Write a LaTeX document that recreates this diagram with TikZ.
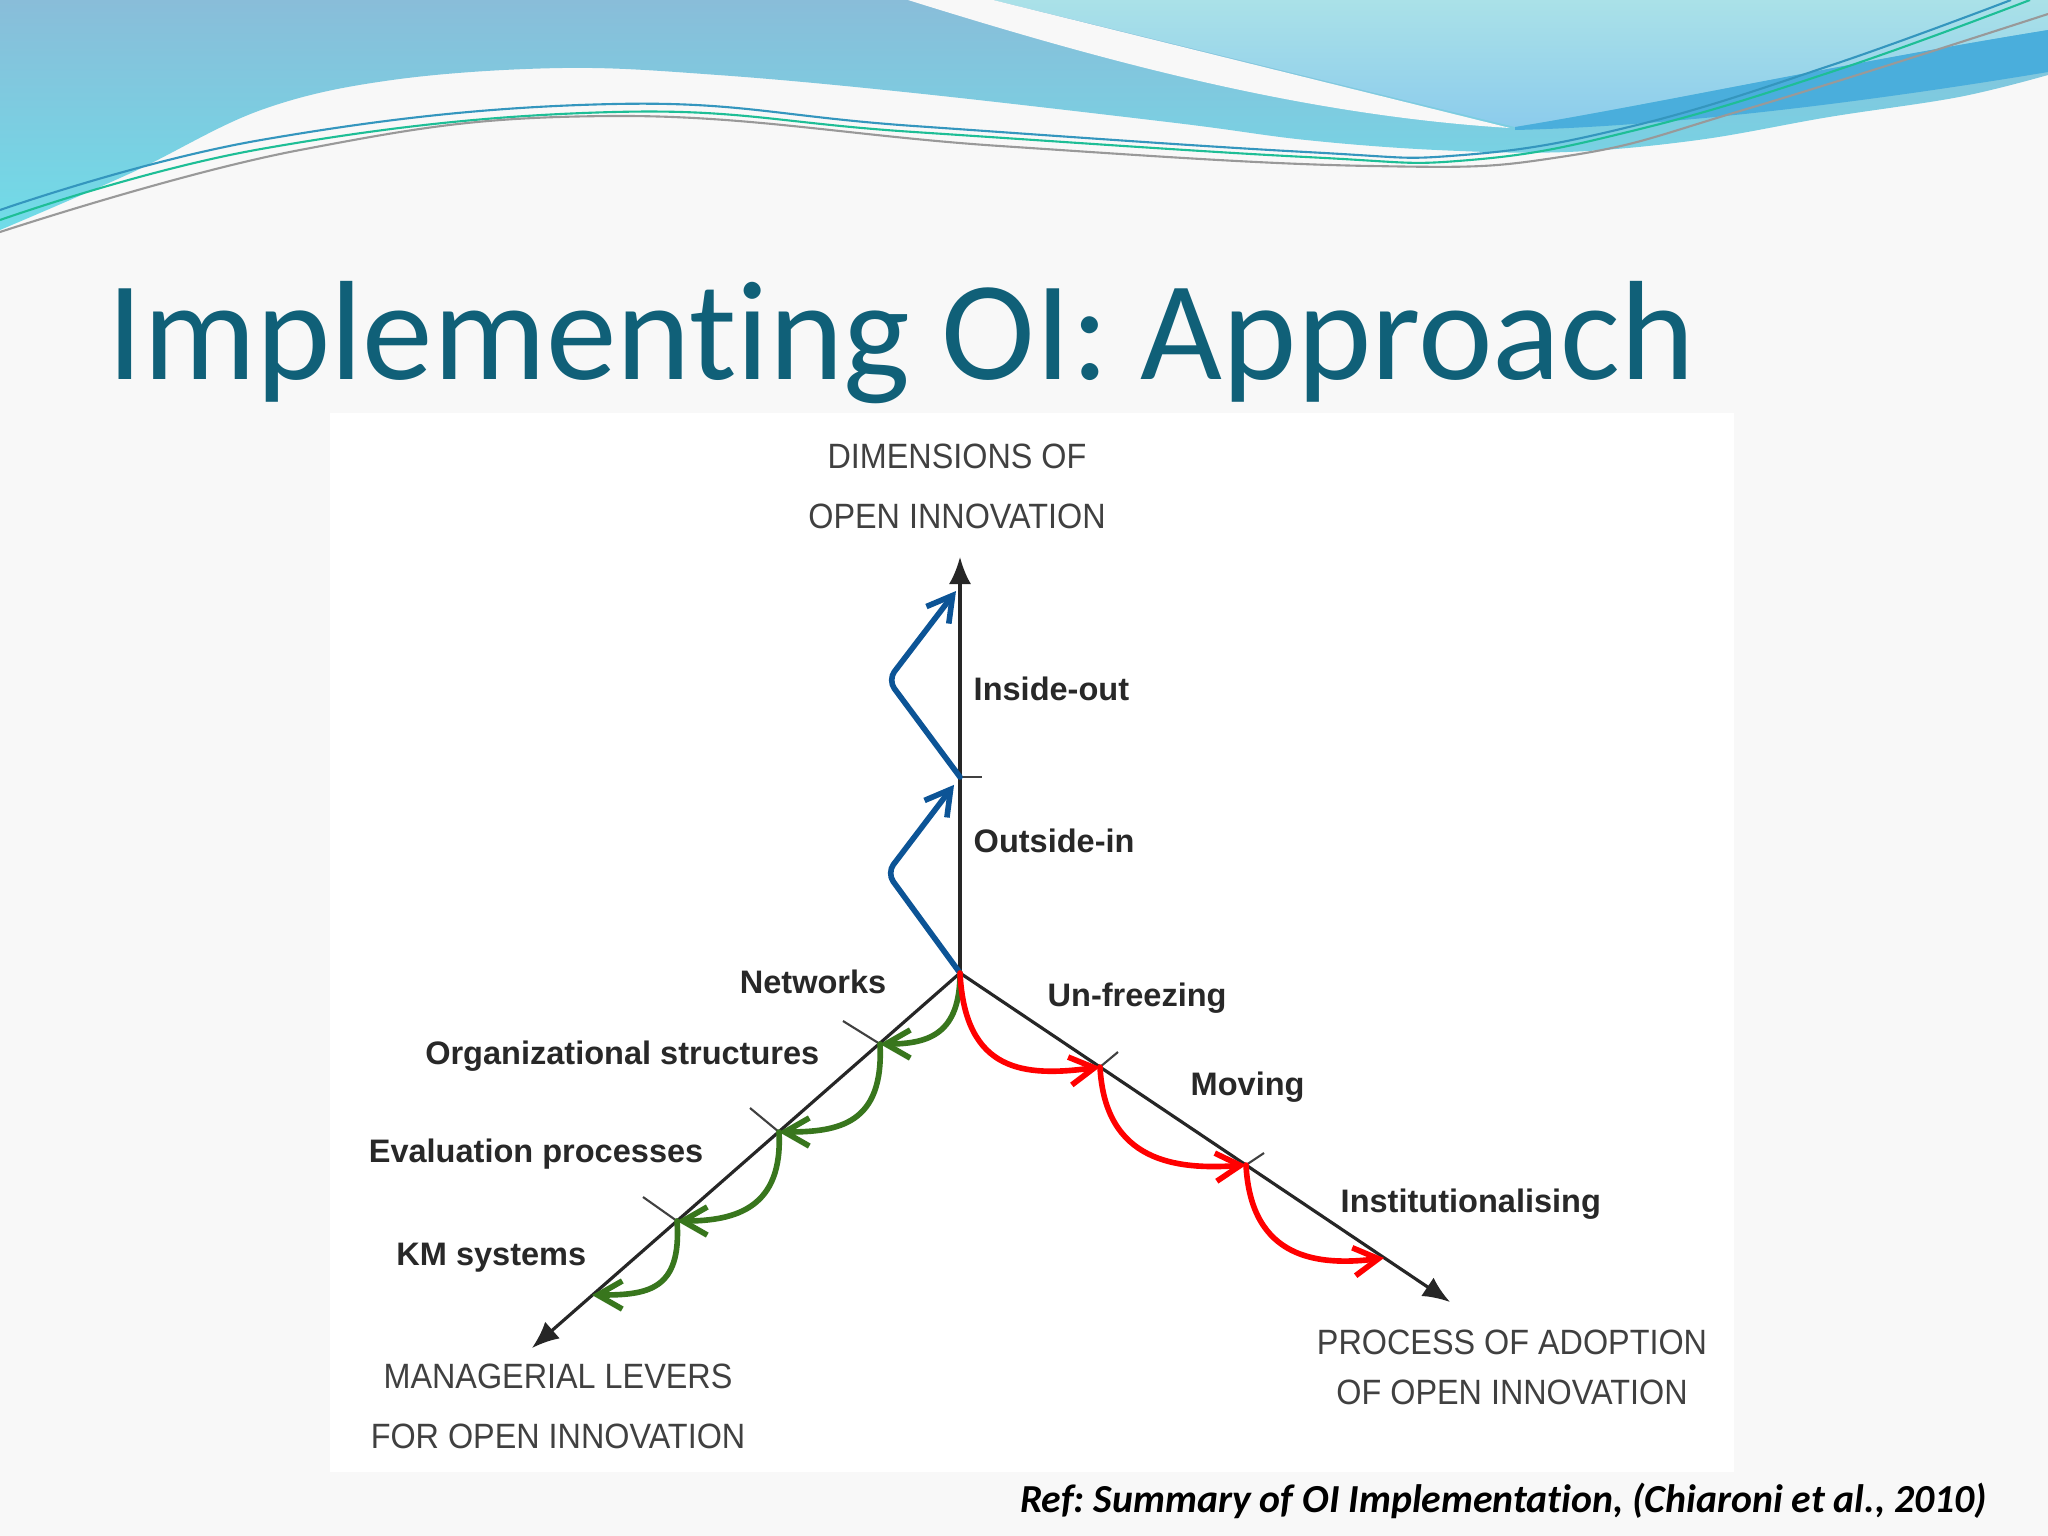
\documentclass[tikz,border=0pt]{standalone}
\usepackage{fontspec}
\setmainfont{Liberation Sans}
\newfontfamily\capsfont[FakeStretch=0.92]{Liberation Sans}
\newfontfamily\titlefont[Ligatures=NoCommon]{Carlito}
\usetikzlibrary{arrows.meta}
\frenchspacing

\definecolor{slidebg}{RGB}{248,248,248}
\definecolor{hdblue}{RGB}{137,189,217}
\definecolor{hdcyan}{RGB}{112,220,232}
\definecolor{hdlight}{RGB}{170,225,232}
\definecolor{hdsky}{RGB}{140,204,236}
\definecolor{hdribbon}{RGB}{74,174,220}
\definecolor{hdline}{RGB}{52,150,190}
\definecolor{hdgreen}{RGB}{30,190,150}
\definecolor{titleteal}{RGB}{16,96,120}
\definecolor{dimblue}{RGB}{12,84,150}
\definecolor{levgreen}{RGB}{56,118,29}
\definecolor{procred}{RGB}{255,0,0}
\definecolor{lbltext}{RGB}{40,40,40}

\begin{document}
\begin{tikzpicture}[x=0.01cm,y=-0.01cm,
  axis/.style={line width=0.9pt,draw=black!85,-{Latex[length=7.7pt,width=6.3pt]}},
  tickmark/.style={line width=0.6pt,draw=black!75},
  steparrow/.style={line width=1.6pt,line cap=round,-{Straight Barb[length=7pt,width=8pt]}},
  lbl/.style={inner sep=0pt,text=lbltext,font=\fontsize{9.25}{11}\selectfont\bfseries},
  caps/.style={inner sep=0pt,align=center,text=black!75,font=\capsfont\fontsize{10}{17.1}\selectfont}]
  \useasboundingbox (0,0) rectangle (2048,1536);
  \fill[slidebg] (0,0) rectangle (2048,1536);

  % header waves
  \shade[top color=hdblue,bottom color=hdcyan] (0,0) -- (2048,0) -- plot[smooth,tension=0.6] coordinates {(2048,75) (1959,97) (1829,117) (1698,140) (1567,152) (1437,150) (1306,140) (1176,123) (914,93) (718,75) (562,68) (392,80) (261,110) (131,173) (0,230)} -- cycle;
  \shade[top color=hdlight,bottom color=hdsky] (993,0) -- (2048,0) -- (2048,30) .. controls (1850,62) and (1650,105) .. (1515,127) -- cycle;
  \fill[slidebg] (908,0) .. controls (1100,60) and (1300,115) .. (1510,128) -- (993,0) -- cycle;
  \fill[hdribbon] (1515,127) .. controls (1650,105) and (1850,62) .. (2048,30) -- (2048,72) .. controls (1880,100) and (1680,126) .. (1515,130) -- cycle;
  \draw[hdline,line width=0.6pt] plot[smooth,tension=0.7] coordinates {(0,210) (261,140) (614,104) (914,126) (1306,152) (1463,155) (1633,126) (1829,66) (2011,0)};
  \draw[hdgreen,line width=0.6pt] plot[smooth,tension=0.7] coordinates {(0,220) (261,149) (614,112) (914,132) (1306,157) (1470,160) (1640,129) (1840,69) (2030,0)};
  \draw[black!40,line width=0.6pt] plot[smooth,tension=0.7] coordinates {(0,232) (300,150) (614,116) (1000,146) (1371,166) (1567,156) (1750,108) (2048,14)};

  % title and reference
  \node[anchor=base west,inner sep=0pt,text=titleteal,font=\titlefont\fontsize{40.2}{48}\selectfont] (title) at (107,379) {Implementing OI: Approach};
  \fill[white] (330,413) rectangle (1734,1472);
  \node[anchor=base east,inner sep=0pt,font=\titlefont\fontsize{11.3}{13}\selectfont\bfseries\itshape] (ref) at (1988,1512) {Ref: Summary of OI Implementation, (Chiaroni et al., 2010)};

  % axes
  \coordinate (o) at (960,973);
  \coordinate (dimtip) at (960,557);
  \coordinate (levtip) at (532,1348);
  \coordinate (proctip) at (1450,1302);
  \coordinate (io) at (960,777);
  \coordinate (inout) at (956,591);
  \coordinate (lv1) at (880,1044);
  \coordinate (lv2) at (779,1132);
  \coordinate (lv3) at (677,1221);
  \coordinate (lv4) at (592,1295);
  \coordinate (pr1) at (1100,1067);
  \coordinate (pr2) at (1246,1165);
  \coordinate (pr3) at (1384,1258);

  \draw[axis] (o) -- (dimtip);
  \draw[axis] (o) -- (levtip);
  \draw[axis] (o) -- (proctip);
  \draw[tickmark] (io) -- ++(22,0);
  \draw[tickmark] (lv1) -- ++(-37,-23);
  \draw[tickmark] (lv2) -- ++(-29,-24);
  \draw[tickmark] (lv3) -- ++(-34,-24);
  \draw[tickmark] (pr1) -- ++(18,-15);
  \draw[tickmark] (pr2) -- ++(18,-12);

  \node[caps] (dims) at (957,486) {DIMENSIONS OF\\OPEN INNOVATION};
  \node[caps] (levers) at (558,1406) {MANAGERIAL LEVERS\\FOR OPEN INNOVATION};
  \node[caps,font=\capsfont\fontsize{10}{14.2}\selectfont] (adoption) at (1512,1367) {PROCESS OF ADOPTION\\OF OPEN INNOVATION};

  \node[lbl,anchor=base west] (insideout) at (973,700) {Inside-out};
  \node[lbl,anchor=base west] (outsidein) at (973,852) {Outside-in};
  \node[lbl,anchor=base east] (networks) at (887,993) {Networks};
  \node[lbl,anchor=base east] (orgstruct) at (820,1064) {Organizational structures};
  \node[lbl,anchor=base east] (evalproc) at (704,1162) {Evaluation processes};
  \node[lbl,anchor=base east] (kmsys) at (587,1265) {KM systems};
  \node[lbl,anchor=base west] (unfreeze) at (1047,1006) {Un-freezing};
  \node[lbl,anchor=base west] (moving) at (1190,1095) {Moving};
  \node[lbl,anchor=base west] (instit) at (1340,1212) {Institutionalising};

  % steps
  \draw[steparrow,dimblue,rounded corners=3pt,shorten >=2.8pt] (o) -- ++(-73,-100) -- (io);
  \draw[steparrow,dimblue,rounded corners=3pt] (io) -- ++(-72,-97) -- (inout);
  \draw[steparrow,levgreen] (o) .. controls +(0,60) and +(50,0) .. (lv1);
  \draw[steparrow,levgreen] (lv1) .. controls +(4,80) and +(60,0) .. (lv2);
  \draw[steparrow,levgreen] (lv2) .. controls +(4,75) and +(60,0) .. (lv3);
  \draw[steparrow,levgreen] (lv3) .. controls +(5,70) and +(55,0) .. (lv4);
  \draw[steparrow,procred] (o) .. controls +(5,100) and +(-75,10) .. (pr1);
  \draw[steparrow,procred] (pr1) .. controls +(5,95) and +(-70,5) .. (pr2);
  \draw[steparrow,procred] (pr2) .. controls +(5,95) and +(-65,8) .. (pr3);
\end{tikzpicture}
\end{document}
